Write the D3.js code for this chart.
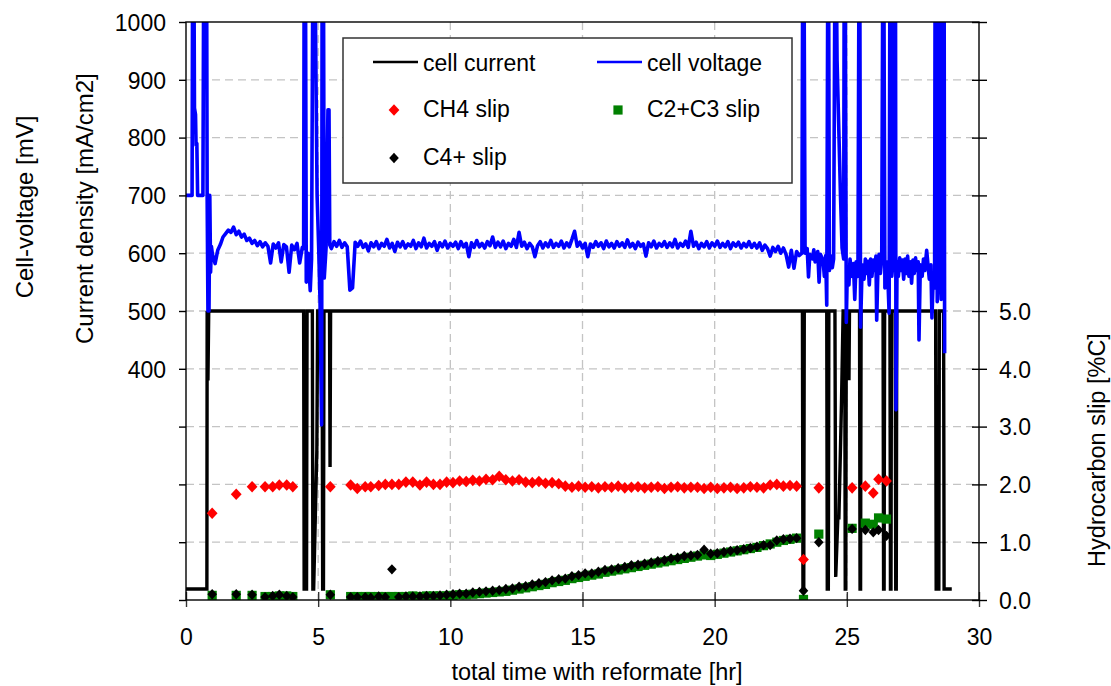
<!DOCTYPE html>
<html>
<head>
<meta charset="utf-8">
<script src="https://cdn.jsdelivr.net/npm/d3@7"></script>
<style>
  body { margin: 0; background: #fff; }
  text { font-family: "Liberation Sans", Arial, sans-serif; fill: #000; }
</style>
</head>
<body>
<svg id="chart" width="1111" height="686"></svg>
<script>
// ---------- data ----------
// cell current density [mA/cm2], (time [hr], value) pairs
const currentPoints = [
  [0,19],[0.79,19],[0.8,500],[0.83,380],[0.86,500],
  [4.45,500],[4.47,19],[4.56,19],[4.58,500],[4.78,500],[4.8,19],[4.83,19],[4.95,260],[4.98,500],
  [5.15,500],[5.17,19],[5.2,19],[5.22,500],[5.43,500],[5.45,230],[5.47,500],
  [23.32,500],[23.34,19],[23.37,19],[23.39,500],
  [24.24,500],[24.26,19],[24.3,19],[24.32,500],
  [24.55,500],[24.58,40],[24.66,142],[24.7,142],[24.8,346],[24.86,500],
  [24.92,500],[24.94,19],[24.96,19],[24.98,500],[25.06,500],[25.08,380],[25.1,500],
  [25.48,500],[25.5,19],[25.52,19],[25.54,500],
  [26.37,500],[26.39,19],[26.41,19],[26.43,500],
  [26.63,500],[26.65,19],[26.67,19],[26.69,500],
  [26.83,500],[26.85,19],[26.87,19],[26.89,500],
  [28.36,500],[28.38,19],[28.48,19],[28.5,500],
  [28.66,500],[28.68,19],[28.97,19]
];

// cell voltage [mV]; readings above 1000 run off the top of the plot
const voltageStart = [
  [0,700],[0.23,700],[0.25,1100],[0.3,1100],[0.32,851],[0.36,840],[0.38,787],[0.41,790],[0.44,700],
  [0.64,700],[0.67,1100],[0.78,1100],[0.8,700],[0.83,500],[0.87,500],[0.9,700],[0.93,567],[0.96,612]
];
// sampled every 0.1 hr from 1.0 hr
const voltageEarlyT0 = 1.0;
const voltageEarly = [
  598, 582, 605, 615, 628, 634, 640, 636, 645, 632,
  638, 628, 633, 622, 626, 617, 622, 613, 620, 611,
  618, 612, 583, 616, 609, 618, 585, 615, 611, 567,
  614, 606, 617, 583, 610
];
const voltageUpset = [
  [4.45,608],[4.47,1100],[4.52,1100],[4.55,550],[4.62,600],[4.7,535],[4.75,590],
  [4.8,1100],[4.88,1100],[4.93,840],[4.96,700],[5.02,609],[5.07,520],[5.13,303],
  [5.15,1100],[5.2,1100],[5.23,557],[5.3,610],[5.37,848],[5.41,848],[5.44,614]
];
// sampled every 0.1 hr from 5.5 hr
const voltageSteadyT0 = 5.5;
const voltageSteady = [
  608, 620, 612, 622, 610,
  618, 611, 536, 540, 619, 612, 621, 610, 616, 604,
  618, 611, 620, 608, 617, 612, 624, 609, 617, 603,
  619, 611, 620, 609, 616, 612, 622, 608, 618, 611,
  626, 609, 617, 612, 620, 605, 618, 611, 621, 609,
  617, 612, 619, 608, 620, 611, 617, 594, 618, 610,
  622, 611, 617, 609, 620, 613, 628, 610, 619, 611,
  621, 608, 617, 612, 624, 610, 636, 612, 619, 608,
  617, 611, 594, 613, 620, 609, 618, 611, 622, 610,
  617, 612, 621, 609, 618, 611, 624, 638, 612, 619,
  609, 617, 594, 616, 610, 620, 612, 618, 608, 621,
  611, 617, 609, 620, 612, 618, 610, 623, 611, 617,
  608, 619, 612, 616, 595, 618, 611, 621, 609, 617,
  612, 620, 610, 618, 611, 624, 609, 617, 612, 621,
  610, 638, 612, 619, 608, 617, 611, 620, 609, 618,
  612, 621, 610, 617, 611, 620, 608, 618, 612, 619,
  609, 617, 611, 620, 610, 617, 609, 618, 605, 614,
  608, 595, 610, 603, 612, 600, 609, 598, 576, 605,
  574, 603, 596
];
const voltageEnd = [
  [23.3,600],[23.33,1100],[23.38,1100],[23.42,600],[23.5,608],[23.55,559],[23.6,598],[23.7,590],
  [23.75,606],[23.8,585],[23.9,603],[23.95,550],[24.0,598],[24.1,588],[24.15,560],[24.2,596],
  [24.24,510],[24.28,1100],[24.31,1100],[24.34,570],[24.4,595],[24.45,575],[24.5,590],
  [24.55,1100],[24.6,1100],[24.63,934],[24.76,700],[24.82,609],[24.88,590],
  [24.9,1100],[24.94,1100],[24.98,480],[25.02,575],[25.08,545],[25.12,590],[25.2,560],
  [25.25,582],[25.3,520],[25.35,585],[25.42,560],[25.46,1100],[25.49,1100],[25.52,472],
  [25.58,580],[25.65,555],[25.7,590],[25.75,565],[25.8,586],[25.85,545],[25.9,590],[25.95,560],
  [26.0,588],[26.05,570],[26.1,595],[26.13,484],[26.18,580],[26.22,598],[26.27,565],[26.32,590],
  [26.36,1100],[26.4,1100],[26.44,540],[26.5,585],[26.55,560],[26.6,496],[26.63,1100],[26.66,1100],
  [26.7,560],[26.76,590],[26.8,1100],[26.84,1100],[26.86,329],[26.9,585],[26.95,560],[27.0,592],
  [27.05,570],[27.1,588],[27.15,555],[27.2,590],[27.25,565],[27.3,595],[27.35,560],[27.4,585],
  [27.45,548],[27.5,588],[27.55,565],[27.6,592],[27.65,570],[27.7,585],[27.73,450],[27.78,580],
  [27.85,560],[27.9,590],[27.95,570],[28.02,605],[28.08,575],[28.12,555],[28.18,580],[28.22,488],
  [28.27,560],[28.32,540],[28.34,1100],[28.38,1100],[28.42,516],[28.46,560],[28.48,1100],
  [28.53,1100],[28.57,520],[28.62,560],[28.65,1100],[28.68,1100],[28.7,427]
];

// gas chromatograph samples: hydrocarbon slip [%C]
const slipTime = [
  0.99, 1.9, 2.5, 2.99, 3.28, 3.53, 3.81, 4.04, 5.46,
  6.23, 6.48, 6.78, 6.99, 7.29, 7.54, 7.79, 8.05, 8.32, 8.58, 8.85, 9.1, 9.36, 9.61, 9.86,
  10.1, 10.35, 10.6, 10.85, 11.1, 11.35, 11.6, 11.85, 12.1, 12.35, 12.6, 12.85, 13.1, 13.35, 13.6, 13.85, 14.1, 14.35, 14.6, 14.85,
  15.1, 15.35, 15.6, 15.85, 16.1, 16.35, 16.6, 16.85, 17.1, 17.35, 17.6, 17.85, 18.1, 18.35, 18.6, 18.85, 19.1, 19.35, 19.6, 19.85,
  20.1, 20.35, 20.6, 20.85, 21.1, 21.35, 21.6, 21.85, 22.1, 22.35, 22.6, 22.85, 23.1,
  23.36, 23.94, 25.2, 25.7, 26.0, 26.2, 26.5
];
const ch4Slip = [
  1.50, 1.83, 1.96, 1.96, 1.96, 1.99, 1.99, 1.96, 1.96,
  1.99, 1.93, 1.96, 1.96, 1.98, 2.00, 2.00, 2.00, 2.04, 2.04, 1.99, 2.04, 2.00, 2.00, 2.04,
  2.03, 2.06, 2.05, 2.07, 2.06, 2.09, 2.08, 2.14, 2.08, 2.06, 2.08, 2.04, 2.03, 2.05, 2.02, 2.03, 2.01, 1.97, 1.95, 1.97,
  1.95, 1.96, 1.94, 1.96, 1.95, 1.97, 1.94, 1.95, 1.96, 1.94, 1.95, 1.96, 1.93, 1.95, 1.96, 1.94, 1.95, 1.95, 1.93, 1.95,
  1.93, 1.94, 1.95, 1.93, 1.94, 1.96, 1.95, 1.94, 1.99, 2.00, 1.97, 1.98, 1.97,
  0.70, 1.94, 1.94, 1.97, 1.85, 2.09, 2.06
];
const c2c3Slip = [
  0.08, 0.08, 0.08, 0.06, 0.06, 0.07, 0.07, 0.06, 0.09,
  0.06, 0.06, 0.06, 0.06, 0.06, 0.06, 0.06, 0.06, 0.06, 0.07, 0.06, 0.07, 0.07, 0.07, 0.07,
  0.08, 0.09, 0.09, 0.10, 0.11, 0.12, 0.13, 0.14, 0.15, 0.17, 0.19, 0.21, 0.23, 0.25, 0.27, 0.30, 0.32, 0.34, 0.37, 0.39,
  0.41, 0.43, 0.45, 0.48, 0.50, 0.52, 0.54, 0.56, 0.58, 0.60, 0.62, 0.64, 0.66, 0.68, 0.70, 0.72, 0.74, 0.76, 0.78, 0.77,
  0.79, 0.81, 0.83, 0.85, 0.87, 0.89, 0.91, 0.94, 0.97, 1.00, 1.03, 1.05, 1.07,
  0.01, 1.14, 1.24, 1.33, 1.31, 1.42, 1.40
];
const c4Slip = [
  0.10, 0.10, 0.09, 0.05, 0.07, 0.09, 0.07, 0.05, 0.09,
  0.05, 0.05, 0.05, 0.04, 0.06, 0.05, 0.53, 0.05, 0.06, 0.06, 0.06, 0.07, 0.07, 0.08, 0.09,
  0.10, 0.11, 0.11, 0.13, 0.14, 0.15, 0.16, 0.17, 0.19, 0.20, 0.23, 0.24, 0.27, 0.29, 0.31, 0.34, 0.36, 0.37, 0.41, 0.43,
  0.46, 0.46, 0.49, 0.52, 0.53, 0.55, 0.57, 0.60, 0.61, 0.63, 0.65, 0.67, 0.69, 0.72, 0.73, 0.76, 0.77, 0.78, 0.87, 0.80,
  0.81, 0.83, 0.85, 0.86, 0.88, 0.90, 0.92, 0.95, 0.95, 1.03, 1.05, 1.06, 1.07,
  0.16, 1.00, 1.23, 1.21, 1.17, 1.21, 1.11
];

const xTicks = [0, 5, 10, 15, 20, 25, 30];
const leftTicks = [0, 100, 200, 300, 400, 500, 600, 700, 800, 900, 1000];
const rightTicks = [0, 1, 2, 3, 4, 5, 6, 7, 8, 9, 10];

const legendItems = [
  { label: "cell current", kind: "line", color: "#000000", col: 0, row: 0 },
  { label: "cell voltage", kind: "line", color: "#0000ff", col: 1, row: 0 },
  { label: "CH4 slip", kind: "diamond", color: "#ff0000", col: 0, row: 1 },
  { label: "C2+C3 slip", kind: "square", color: "#008000", col: 1, row: 1 },
  { label: "C4+ slip", kind: "diamond", color: "#000000", col: 0, row: 2 }
];

// ---------- assemble series ----------
const voltagePoints = [].concat(
  voltageStart,
  voltageEarly.map((v, i) => [voltageEarlyT0 + i * 0.1, v]),
  voltageUpset,
  voltageSteady.map((v, i) => [voltageSteadyT0 + i * 0.1, v]),
  voltageEnd
);
const slipRows = slipTime.map((t, i) => ({ t, ch4: ch4Slip[i], c2c3: c2c3Slip[i], c4: c4Slip[i] }));

// ---------- layout ----------
const svg = d3.select("#chart");
const plot = { left: 186, right: 979, top: 22, bottom: 600 };

const x = d3.scaleLinear().domain([0, 30]).range([plot.left, plot.right]);
const yLeft = d3.scaleLinear().domain([0, 1000]).range([plot.bottom, plot.top]);
const yRight = d3.scaleLinear().domain([0, 10]).range([plot.bottom, plot.top]);

svg.append("defs").append("clipPath").attr("id", "plotClip")
  .append("rect")
  .attr("x", plot.left).attr("y", plot.top)
  .attr("width", plot.right - plot.left).attr("height", plot.bottom - plot.top);

svg.select("defs").append("clipPath").attr("id", "titleClip")
  .append("rect").attr("x", 0).attr("y", 70).attr("width", 200).attr("height", 616);

// ---------- grid ----------
const grid = svg.append("g").attr("stroke", "#c4c4c4").attr("stroke-width", 1.3)
  .attr("stroke-dasharray", "8,5");
grid.selectAll("line.h").data(leftTicks.filter(d => d > 0 && d < 1000)).join("line")
  .attr("class", "h")
  .attr("x1", plot.left).attr("x2", plot.right)
  .attr("y1", d => yLeft(d)).attr("y2", d => yLeft(d));
grid.selectAll("line.v").data(xTicks.filter(d => d > 0 && d < 30)).join("line")
  .attr("class", "v")
  .attr("x1", d => x(d)).attr("x2", d => x(d))
  .attr("y1", plot.top).attr("y2", plot.bottom);

// ---------- axes ----------
const fontSize = 23;

const xAxis = svg.append("g").attr("transform", `translate(0,${plot.bottom})`)
  .call(d3.axisBottom(x).tickValues(xTicks).tickSize(7).tickSizeOuter(0).tickFormat(d3.format("d")));
xAxis.select(".domain").remove();
xAxis.selectAll(".tick line").attr("y1", -8).attr("y2", 7).attr("stroke", "#333").attr("stroke-width", 1.4);
xAxis.selectAll(".tick text").attr("y", 45).attr("dy", 0)
  .style("font-size", fontSize + "px").style("font-family", "Liberation Sans, Arial, sans-serif");

const leftAxis = svg.append("g").attr("transform", `translate(${plot.left},0)`)
  .call(d3.axisLeft(yLeft).tickValues(leftTicks).tickSize(7).tickPadding(13).tickSizeOuter(0)
    .tickFormat(d => d >= 400 ? d : ""));
leftAxis.select(".domain").remove();
leftAxis.selectAll(".tick line").attr("stroke", "#000").attr("stroke-width", 1.4);
leftAxis.selectAll(".tick text").attr("dy", "0.36em")
  .style("font-size", fontSize + "px").style("font-family", "Liberation Sans, Arial, sans-serif");

const rightAxis = svg.append("g").attr("transform", `translate(${plot.right},0)`)
  .call(d3.axisRight(yRight).tickValues(rightTicks).tickSize(8).tickPadding(12).tickSizeOuter(0)
    .tickFormat(d => d <= 5 ? d3.format(".1f")(d) : ""));
rightAxis.select(".domain").remove();
rightAxis.selectAll(".tick line").attr("x1", -7).attr("x2", 8).attr("stroke", "#000").attr("stroke-width", 1.4);
rightAxis.selectAll(".tick text").attr("dy", "0.36em")
  .style("font-size", fontSize + "px").style("font-family", "Liberation Sans, Arial, sans-serif");

// ---------- series ----------
const data = svg.append("g").attr("clip-path", "url(#plotClip)");

const currentLine = d3.line().x(d => x(d[0])).y(d => yLeft(d[1]));
data.append("path").datum(currentPoints)
  .attr("d", currentLine)
  .attr("fill", "none").attr("stroke", "#000").attr("stroke-width", 3.4)
  .attr("stroke-linejoin", "miter");

const voltageLine = d3.line().x(d => x(d[0])).y(d => yLeft(d[1]));
data.append("path").datum(voltagePoints)
  .attr("d", voltageLine)
  .attr("fill", "none").attr("stroke", "#0000ff").attr("stroke-width", 3.6)
  .attr("stroke-linejoin", "round");

const diamond = (rx, ry) => `M0,${-ry}L${rx},0L0,${ry}L${-rx},0Z`;
const square = s => `M${-s},${-s}H${s}V${s}H${-s}Z`;

data.append("g").selectAll("path").data(slipRows).join("path")
  .attr("transform", d => `translate(${x(d.t)},${yRight(d.c2c3)})`)
  .attr("d", square(4.6)).attr("fill", "#008000");

data.append("g").selectAll("path").data(slipRows).join("path")
  .attr("transform", d => `translate(${x(d.t)},${yRight(d.ch4)})`)
  .attr("d", diamond(5.4, 5.8)).attr("fill", "#ff0000");

data.append("g").selectAll("path").data(slipRows).join("path")
  .attr("transform", d => `translate(${x(d.t)},${yRight(d.c4)})`)
  .attr("d", diamond(4.8, 5.2)).attr("fill", "#000");

// frame
svg.append("rect")
  .attr("x", plot.left).attr("y", plot.top)
  .attr("width", plot.right - plot.left).attr("height", plot.bottom - plot.top)
  .attr("fill", "none").attr("stroke", "#000").attr("stroke-width", 1.4);

// ---------- legend ----------
const legend = svg.append("g");
legend.append("rect")
  .attr("x", 343).attr("y", 38).attr("width", 449).attr("height", 145)
  .attr("fill", "#fff").attr("stroke", "#333").attr("stroke-width", 1.5);

const colX = [373, 597];
const rowY = [64, 110, 158];
const item = legend.selectAll("g.item").data(legendItems).join("g")
  .attr("class", "item")
  .attr("transform", d => `translate(${colX[d.col]},${rowY[d.row]})`);
item.filter(d => d.kind === "line").append("line")
  .attr("x1", 0).attr("x2", 45).attr("y1", -2).attr("y2", -2)
  .attr("stroke", d => d.color).attr("stroke-width", 2.5);
item.filter(d => d.kind === "diamond").append("path")
  .attr("transform", "translate(21,0)")
  .attr("d", d => d.color === "#000000" ? diamond(4.8, 5.2) : diamond(5.4, 5.8))
  .attr("fill", d => d.color);
item.filter(d => d.kind === "square").append("path")
  .attr("transform", "translate(21,0)")
  .attr("d", square(4.6)).attr("fill", d => d.color);
item.append("text")
  .attr("x", 50).attr("y", 7)
  .style("font-size", "23px")
  .text(d => d.label);

// ---------- axis titles ----------
svg.append("text")
  .attr("transform", "translate(33,207) rotate(-90)")
  .attr("text-anchor", "middle")
  .style("font-size", "24px")
  .text("Cell-voltage [mV]");

svg.append("g").attr("clip-path", "url(#titleClip)")
  .append("text")
  .attr("transform", "translate(93,344) rotate(-90)")
  .attr("text-anchor", "start")
  .style("font-size", "24px")
  .text("Current density [mA/cm2]");

svg.append("text")
  .attr("transform", "translate(1105,450) rotate(-90)")
  .attr("text-anchor", "middle")
  .style("font-size", "23.5px")
  .text("Hydrocarbon slip [%C]");

svg.append("text")
  .attr("x", 597).attr("y", 680)
  .attr("text-anchor", "middle")
  .style("font-size", "23.5px")
  .text("total time with reformate [hr]");
</script>
</body>
</html>
